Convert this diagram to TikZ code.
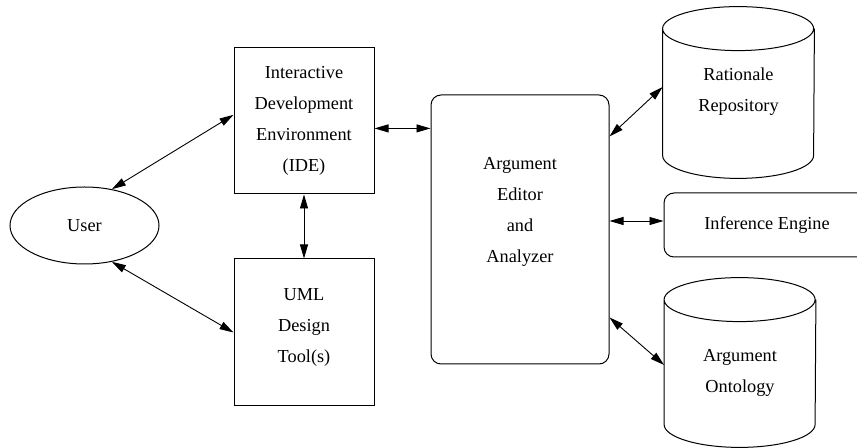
\documentclass[tikz,border=0pt]{standalone}
\usepackage{fontspec}
\setmainfont{Liberation Serif}
\newfontfamily\labelfont{Liberation Serif}
\usetikzlibrary{shapes.geometric,arrows.meta,calc}

\begin{document}
\begin{tikzpicture}[x=0.5pt,y=-0.5pt,
  every node/.style={font=\labelfont\fontsize{9.15}{15.5}\selectfont, align=center, inner sep=0pt},
  box/.style={draw, line width=0.5pt, rectangle},
  rbox/.style={box, rounded corners=5pt},
  dbody/.style={rectangle, minimum width=75.5pt},
  link/.style={line width=0.45pt, {Triangle[length=7pt,width=4pt]}-{Triangle[length=7pt,width=4pt]}}]
\useasboundingbox (0,0) rectangle (857,448);
\clip (0,0) rectangle (857,448);

%left
\node[draw, ellipse, line width=0.5pt, minimum width=74.5pt, minimum height=38.5pt] (user) at (84.5,225.5) {User};
\node[box, minimum width=70pt, minimum height=73pt] (ide) at (304,121) {Interactive\\Development\\Environment\\(IDE)};
\node[box, minimum width=70pt, minimum height=73.5pt] (uml) at (304,332.5) {};
\node (uml-txt) at (304,327) {UML\\Design\\Tool(s)};

%middle
\node[rbox, minimum width=89pt, minimum height=134.5pt] (edit) at (520,229.5) {};
\node (edit-txt) at (520,211.5) {Argument\\Editor\\and\\Analyzer};

%right
\node[dbody, minimum height=63pt] (rep) at (738.5,92) {Rationale\\Repository};
\node[rbox, minimum width=103pt, minimum height=32pt] (inf) at (767,225) {Inference Engine};
\node[dbody, minimum height=62pt] (ont) at (740,362) {};
\node (ont-txt) at (740,373) {Argument\\Ontology};

% cylinder outlines
\foreach \db in {rep,ont}
  \draw[line width=0.5pt] (\db.north west) arc[start angle=180, end angle=-180, x radius=37.75pt, y radius=11pt]
    -- (\db.south west) arc[start angle=180, end angle=360, x radius=37.75pt, y radius=11.5pt]
    -- (\db.north east);

%links
\draw[link] (user.53) -- (ide.175);
\draw[link] (user.-53) -- (uml.west);
\draw[link] (ide.south) -- (uml.north);
\draw[link] (ide.-6) -- (ide.-6 -| edit.west);
\draw[link] ($(edit.north east)+(0,42)$) -- ($(rep.west)+(0,-5)$);
\coordinate (inf-in) at ($(inf.west)+(0,-4)$);
\draw[link] (inf-in -| edit.east) -- (inf-in);
\draw[link] ($(edit.south east)+(0,-47)$) -- ($(ont.west)+(0,3)$);

\end{tikzpicture}
\end{document}
